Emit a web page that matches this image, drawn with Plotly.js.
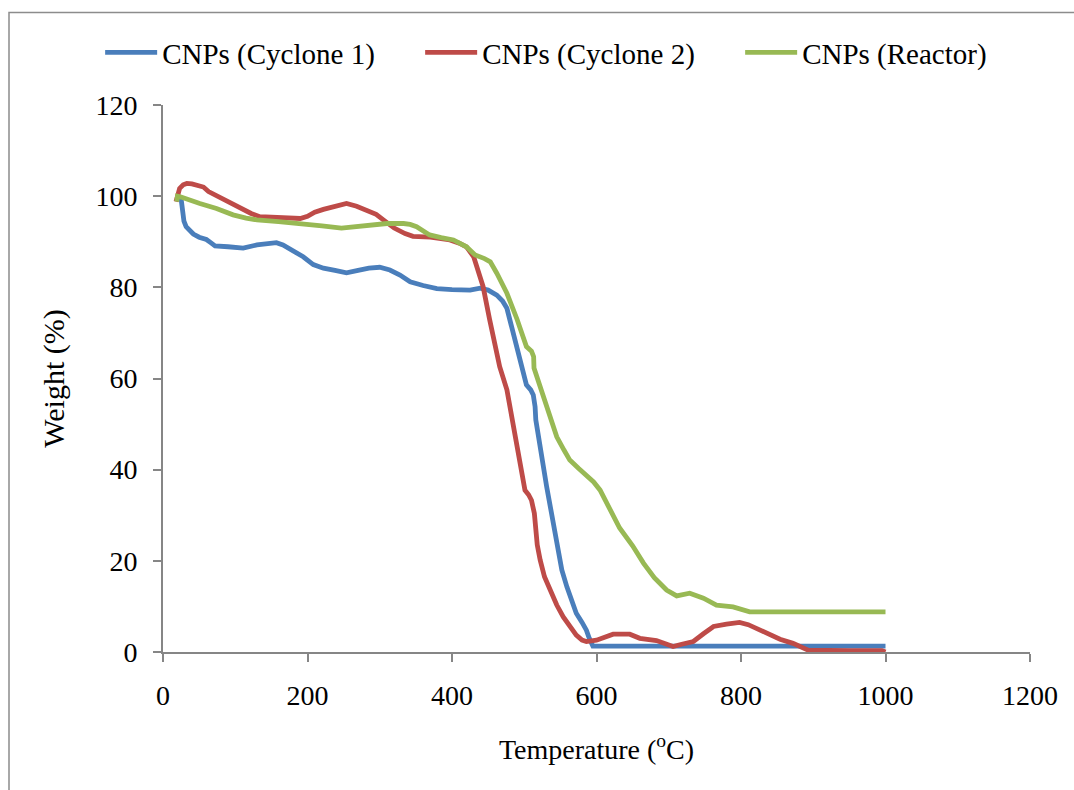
<!DOCTYPE html>
<html>
<head>
<meta charset="utf-8">
<script src="https://cdn.plot.ly/plotly-3.0.1.min.js"></script>
<style>html,body{margin:0;padding:0;background:#fff;}#chart{width:1074px;height:790px;}</style>
</head>
<body>
<div id="chart"></div>
<script>
// CNPs (Cyclone 1)
var c1Temp = [22, 25, 27, 29, 32, 36, 42, 50, 60, 66, 72, 90, 111, 130, 157, 166, 180, 194, 208, 222, 238, 254, 270, 285, 300, 314, 328, 342, 360, 379, 400, 425, 439, 450, 462, 470, 476, 489, 503, 509, 512.5, 515, 516, 531, 545, 552, 559, 566, 572, 580, 586, 590, 595, 650, 700, 800, 900, 1000];
var c1Weight = [100, 99.5, 97, 94.5, 93.3, 92.5, 91.7, 91, 90.5, 89.8, 89.1, 88.9, 88.6, 89.3, 89.8, 89.3, 88, 86.7, 85, 84.2, 83.7, 83.2, 83.7, 84.2, 84.4, 83.8, 82.7, 81.2, 80.4, 79.7, 79.5, 79.4, 79.8, 79.4, 78.3, 77, 75.4, 67, 58.6, 57.5, 56.4, 53.8, 50.9, 36.3, 23.1, 18, 14.3, 11, 8.5, 6.5, 4.8, 3, 1.3, 1.3, 1.3, 1.3, 1.3, 1.3];

// CNPs (Cyclone 2)
var c2Temp = [18, 20, 23, 28, 33, 40, 49, 56, 63, 75, 88, 100, 111, 122, 134, 160, 190, 200, 210, 222, 238, 254, 268, 282, 295, 305, 320, 335, 346, 370, 397, 410, 420, 430, 436, 443, 452, 462, 466, 476, 485, 493, 501, 506, 510, 514, 515, 518, 522, 528, 536, 545, 554, 563, 572, 580, 586, 600, 612, 623, 646, 660, 683, 696, 706, 718, 734, 748, 762, 780, 798, 810, 822, 838, 854, 872, 885, 893, 950, 995, 1000];
var c2Weight = [98.8, 100.5, 101.7, 102.5, 102.8, 102.7, 102.4, 102, 101, 100, 98.8, 97.9, 97.1, 96.2, 95.5, 95.3, 95.1, 95.6, 96.5, 97.1, 97.8, 98.4, 97.8, 97, 96, 94.8, 93, 91.8, 91.2, 91, 90.4, 89.7, 88.9, 86.7, 83.5, 80.2, 73, 65.5, 62.6, 57.5, 49.4, 42, 35.5, 34.5, 33.3, 30.4, 27.5, 23.5, 20.2, 16.5, 13.6, 10.3, 7.7, 5.5, 3.7, 2.6, 2.3, 2.6, 3.2, 3.9, 3.9, 3.0, 2.5, 1.8, 1.2, 1.7, 2.3, 4, 5.6, 6.1, 6.5, 6, 5.2, 4, 2.8, 1.9, 1, 0.4, 0.3, 0.3, 0];

// CNPs (Reactor)
var rTemp = [19, 20, 25, 35, 51, 74, 97, 115, 130, 160, 194, 220, 247, 265, 282, 310, 333, 342, 351, 369, 385, 402, 420, 432, 445, 453, 462, 476, 490, 503, 510, 513, 513.5, 526, 536, 545, 555, 563, 575, 586, 596, 605, 618, 632, 650, 665, 680, 697, 711, 720, 729, 748, 758, 766, 789, 800, 812, 900, 1000];
var rWeight = [98.8, 100, 99.8, 99.2, 98.4, 97.3, 95.9, 95.2, 94.8, 94.4, 94.0, 93.5, 93.0, 93.3, 93.7, 94, 94, 93.8, 93.3, 91.5, 90.9, 90.4, 88.9, 87.1, 86.3, 85.6, 83.1, 78.7, 73, 67.0, 66, 64.8, 62.3, 56.0, 51, 47.2, 44.3, 42.1, 40.3, 38.8, 37.3, 35.5, 31.5, 27.2, 23.3, 19.5, 16.3, 13.6, 12.3, 12.6, 12.9, 11.8, 11, 10.3, 9.9, 9.5, 8.8, 8.8, 8.8];

var xTicks = [0, 200, 400, 600, 800, 1000, 1200];
var yTicks = [0, 20, 40, 60, 80, 100, 120];

var seriesNames = ['CNPs (Cyclone 1)', 'CNPs (Cyclone 2)', 'CNPs (Reactor)'];
var seriesColors = ['#4A7EBB', '#BE4B48', '#98B954'];

var font = '"Liberation Serif", "Times New Roman", serif';

var data = [
  {x: c1Temp, y: c1Weight, name: seriesNames[0]},
  {x: c2Temp, y: c2Weight, name: seriesNames[1]},
  {x: rTemp, y: rWeight, name: seriesNames[2]}
].map(function (t, i) {
  t.type = 'scatter';
  t.mode = 'lines';
  t.line = {color: seriesColors[i], width: 4.8};
  t.hoverinfo = 'skip';
  return t;
});

var axisCommon = {
  showgrid: false,
  zeroline: false,
  showline: true,
  linecolor: '#868686',
  linewidth: 2,
  ticks: 'outside',
  ticklen: 8,
  tickwidth: 2,
  tickcolor: '#868686',
  tickfont: {family: font, size: 28, color: '#000'}
};

var layout = {
  width: 1074,
  height: 790,
  margin: {l: 163, r: 44, t: 105, b: 138},
  paper_bgcolor: '#fff',
  plot_bgcolor: '#fff',
  font: {family: font, color: '#000'},
  showlegend: true,
  legend: {
    orientation: 'h',
    x: -0.0725, xanchor: 'left',
    y: 1.096, yanchor: 'middle',
    font: {family: font, size: 29, color: '#000'},
    entrywidth: 253, entrywidthmode: 'pixels',
    itemwidth: 52,
    bgcolor: 'rgba(0,0,0,0)'
  },
  xaxis: Object.assign({}, axisCommon, {
    range: [0, 1200],
    tickvals: xTicks,
    ticktext: xTicks.map(String),
    ticklabelstandoff: 9,
    title: {text: 'Temperature (<sup>o</sup>C)', font: {family: font, size: 28, color: '#000'}, standoff: 30}
  }),
  yaxis: Object.assign({}, axisCommon, {
    range: [0, 120],
    tickvals: yTicks,
    ticktext: yTicks.map(String),
    ticklabelstandoff: 10,
    title: {text: 'Weight (%)', font: {family: font, size: 30, color: '#000'}, standoff: 22}
  }),
  shapes: [{
    type: 'rect', xref: 'paper', yref: 'paper',
    x0: (9 - 163) / 867, x1: (1100 - 163) / 867,
    y0: (652 - 820) / 547, y1: (652 - 12.5) / 547,
    line: {color: '#8C8C8C', width: 1.5},
    fillcolor: 'rgba(0,0,0,0)',
    layer: 'below'
  }]
};

Plotly.newPlot('chart', data, layout, {staticPlot: true, displayModeBar: false});
</script>
</body>
</html>
